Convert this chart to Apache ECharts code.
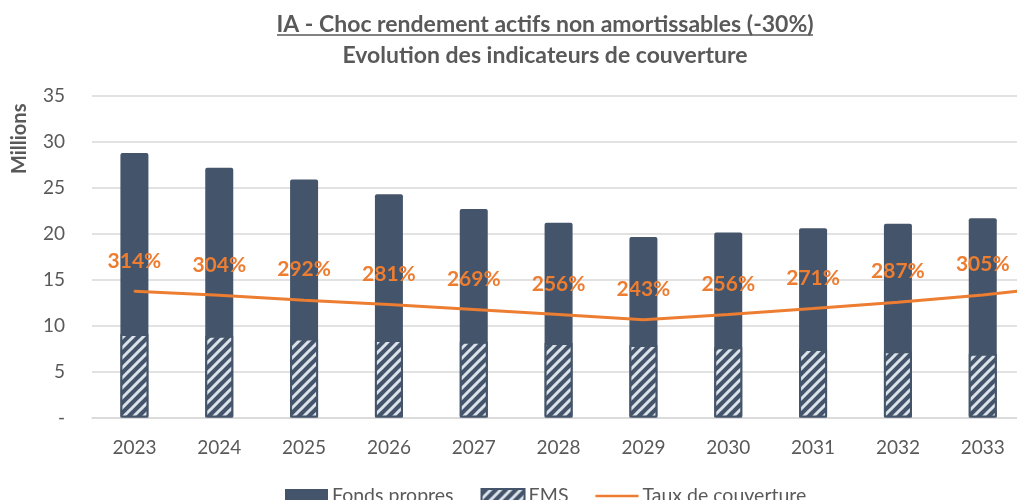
<!DOCTYPE html>
<html>
<head>
<meta charset="utf-8">
<script src="https://cdn.jsdelivr.net/npm/echarts@6/dist/echarts.min.js"></script>
<style>
  html, body { margin: 0; padding: 0; background: #fff; }
  #chart { width: 1017px; height: 500px; }
</style>
</head>
<body>
<div id="chart"></div>
<script>
// categories (2034 sits just past the right edge; only its line segment shows)
const years = ['2023', '2024', '2025', '2026', '2027', '2028', '2029', '2030', '2031', '2032', '2033', '2034'];
// millions
const fondsPropres = [28.8, 27.2, 25.9, 24.3, 22.7, 21.2, 19.65, 20.15, 20.6, 21.1, 21.7, null];
const ems = [9.1, 8.9, 8.6, 8.45, 8.25, 8.1, 7.9, 7.65, 7.45, 7.2, 6.95, null];
// taux de couverture, %
const taux = [314, 304, 292, 281, 269, 256, 243, 256, 271, 287, 305, 328];
const yTicks = [0, 5, 10, 15, 20, 25, 30, 35];

const FONT = 'Lato, "Open Sans", sans-serif';
const GREY = '#595959';
const NAVY = '#44546A';
const ORANGE = '#ED7D31';

// hatch pattern for EMS
const pc = document.createElement('canvas');
pc.width = 10; pc.height = 10;
const pctx = pc.getContext('2d');
pctx.fillStyle = NAVY;
pctx.fillRect(0, 0, 10, 10);
pctx.strokeStyle = '#DCE2EA';
pctx.lineWidth = 3;
pctx.beginPath();
pctx.moveTo(-1, 11); pctx.lineTo(11, -1);
pctx.moveTo(-6, 6); pctx.lineTo(6, -6);
pctx.moveTo(4, 16); pctx.lineTo(16, 4);
pctx.stroke();
const hatch = { image: pc, repeat: 'repeat' };

const title1 = 'IA - Choc rendement actifs non amortissables (-30%)';
const titleCx = 540;

const chart = echarts.init(document.getElementById('chart'));
const option = {
  animation: false,
  title: [{
    text: title1,
    left: titleCx, top: 8,
    textAlign: 'center',
    textStyle: { fontFamily: FONT, fontSize: 23, fontWeight: 'bold', color: GREY }
  }, {
    text: 'Evolution des indicateurs de couverture',
    left: titleCx, top: 39,
    textAlign: 'center',
    textStyle: { fontFamily: FONT, fontSize: 23, fontWeight: 'bold', color: GREY }
  }],
  graphic: [{
    type: 'line',
    shape: { x1: 277, y1: 35, x2: 813, y2: 35 },
    style: { stroke: GREY, lineWidth: 1.5 }
  }, {
    type: 'text',
    x: 10, y: 174,
    rotation: Math.PI / 2,
    style: { text: 'Millions', fontFamily: FONT, fontSize: 20, fontWeight: 'bold', fill: GREY }
  }],
  legend: {
    left: 280, top: 481,
    itemWidth: 43, itemHeight: 14, itemGap: 27,
    textStyle: { fontFamily: FONT, fontSize: 19.5, color: GREY, padding: [0, 0, 0, -1] },
    data: [
      { name: 'Fonds propres', icon: 'rect' },
      { name: 'EMS', icon: 'rect' },
      { name: 'Taux de couverture', icon: 'path://M0,6 L43,6 L43,8.5 L0,8.5 Z' }
    ]
  },
  grid: { left: 92, top: 96, width: 1018, height: 321.5, outerBoundsMode: 'none' },
  xAxis: {
    type: 'category',
    data: years,
    axisTick: { show: false },
    axisLine: { lineStyle: { color: '#D9D9D9', width: 1.5 } },
    axisLabel: { fontFamily: FONT, fontSize: 19, color: GREY, margin: 21 }
  },
  yAxis: [{
    type: 'value',
    min: yTicks[0], max: yTicks[yTicks.length - 1], interval: 5,
    axisLine: { show: false },
    axisTick: { show: false },
    splitLine: { lineStyle: { color: '#D9D9D9', width: 1.5 } },
    axisLabel: {
      fontFamily: FONT, fontSize: 19, color: GREY, margin: 27,
      formatter: v => (v === 0 ? '-' : String(v))
    }
  }, {
    type: 'value',
    min: 0, max: 800,
    show: false,
    splitLine: { show: false }
  }],
  series: [{
    name: 'Fonds propres',
    type: 'bar',
    data: fondsPropres,
    barWidth: 28,
    barGap: '-100%',
    itemStyle: { color: NAVY, borderRadius: 2 }
  }, {
    name: 'EMS',
    type: 'bar',
    data: ems,
    barWidth: 28,
    barGap: '-100%',
    itemStyle: { color: hatch, borderColor: NAVY, borderWidth: 2 }
  }, {
    name: 'Taux de couverture',
    type: 'line',
    yAxisIndex: 1,
    data: taux,
    symbol: 'circle',
    symbolSize: 2,
    showSymbol: true,
    lineStyle: { color: ORANGE, width: 3 },
    itemStyle: { color: ORANGE },
    label: {
      show: true,
      position: 'top',
      distance: 19,
      formatter: p => p.value + '%',
      fontFamily: FONT, fontSize: 21, fontWeight: 'bold', color: ORANGE
    },
    labelLayout: { hideOverlap: false }
  }]
};
chart.setOption(option);
</script>
</body>
</html>
